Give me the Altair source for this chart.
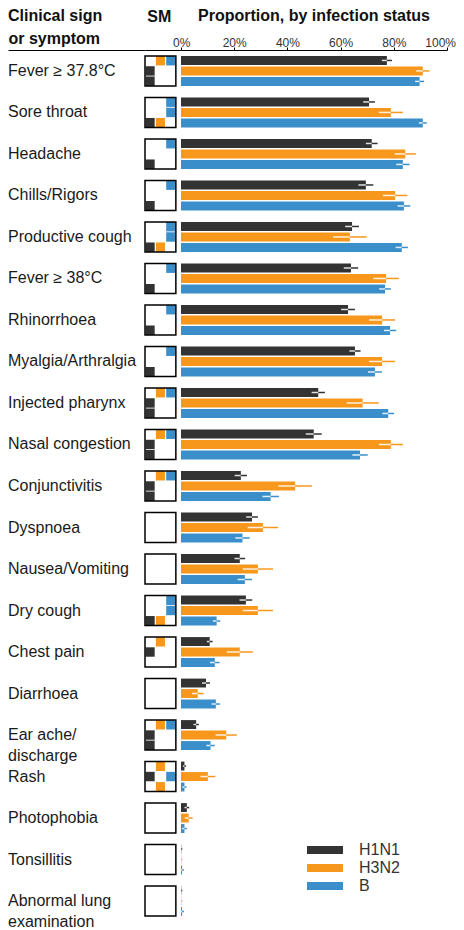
import altair as alt
import pandas as pd

FONT = "Liberation Sans"

symptoms = ["Fever ≥ 37.8°C", "Sore throat", "Headache", "Chills/Rigors", "Productive cough",
            "Fever ≥ 38°C", "Rhinorrhoea", "Myalgia/Arthralgia", "Injected pharynx",
            "Nasal congestion", "Conjunctivitis", "Dyspnoea", "Nausea/Vomiting", "Dry cough",
            "Chest pain", "Diarrhoea", "Ear ache/discharge", "Rash", "Photophobia",
            "Tonsillitis", "Abnormal lung examination"]
labels = ["Fever ≥ 37.8°C", "Sore throat", "Headache", "Chills/Rigors", "Productive cough",
          "Fever ≥ 38°C", "Rhinorrhoea", "Myalgia/Arthralgia", "Injected pharynx",
          "Nasal congestion", "Conjunctivitis", "Dyspnoea", "Nausea/Vomiting", "Dry cough",
          "Chest pain", "Diarrhoea", "Ear ache/\ndischarge", "Rash", "Photophobia",
          "Tonsillitis", "Abnormal lung\nexamination"]
strains = ["H1N1", "H3N2", "B"]
colors = ["#333333", "#F7981D", "#3A8FCA"]

h1n1 = [77.4, 70.7, 71.7, 69.5, 64.3, 63.9, 62.8, 65.4, 51.6, 49.9, 22.5, 26.7, 22.1, 24.4,
        10.8, 9.4, 5.7, 1.3, 2.2, 0.1, 0.1]
h1n1_err = [1.9, 2.2, 2.2, 2.8, 2.6, 2.7, 2.6, 2.1, 2.5, 3.0, 2.3, 2.2, 2.0, 2.4,
            1.1, 1.5, 1.0, 0.6, 0.9, 0.4, 0.4]
h3n2 = [90.9, 78.9, 84.3, 80.5, 63.5, 77.1, 75.6, 75.6, 68.3, 78.9, 42.9, 30.8, 28.9, 28.9,
        22.1, 6.3, 17.0, 10.1, 2.9, 0.1, 0.1]
h3n2_err = [2.5, 4.5, 4.0, 4.6, 6.3, 4.8, 4.9, 4.9, 6.0, 4.5, 6.3, 5.7, 5.7, 5.7,
            4.9, 2.2, 4.0, 2.8, 1.5, 0.4, 0.4]
b = [89.7, 90.9, 83.4, 83.8, 83.0, 76.7, 78.6, 72.9, 77.9, 67.3, 33.7, 23.1, 24.0, 13.4,
     12.7, 13.1, 11.1, 1.3, 1.3, 0.4, 0.4]
b_err = [1.7, 1.5, 2.5, 2.4, 2.3, 2.2, 2.3, 2.6, 2.2, 2.9, 3.1, 2.7, 2.7, 1.4,
         1.8, 1.6, 1.6, 0.8, 0.9, 0.7, 0.7]

# significance matrix: "rc" = row r, column c (0 = H1N1, 1 = H3N2, 2 = B)
sm_cells = [["01", "02", "10", "20"], ["02", "12", "20", "21"], ["02", "20"], ["02", "20"],
            ["02", "12", "20", "21"], ["02", "20"], ["02", "20"], ["02", "20"],
            ["01", "02", "10", "20"], ["01", "02", "10", "20"], ["01", "02", "10", "20"],
            [], [], ["02", "12", "20", "21"], ["01", "10"], [],
            ["01", "02", "10", "20"], ["01", "10", "12", "21"], [], [], []]

rows = []
for i, s in enumerate(symptoms):
    for strain, vals, errs in zip(strains, [h1n1, h3n2, b], [h1n1_err, h3n2_err, b_err]):
        v, e = vals[i], errs[i]
        rows.append(dict(symptom=s, strain=strain, value=v, lo=max(0.0, v - e), hi=v + e))
bars_df = pd.DataFrame(rows)

lab_df = pd.DataFrame(dict(symptom=symptoms, label=labels, lx=[0] * len(symptoms)))

cells = []
for s, codes in zip(symptoms, sm_cells):
    for code in codes:
        r, c = int(code[0]), int(code[1])
        cells.append(dict(symptom=s, row=strains[r], strain=strains[c], c0=c + 0.06, c1=c + 0.94))
cells_df = pd.DataFrame(cells)
box_df = pd.DataFrame(dict(symptom=symptoms))

H = 866
yscale = alt.Scale(type="band", domain=symptoms, paddingInner=0.28, paddingOuter=0.0722, align=1)
cscale = alt.Scale(domain=strains, range=colors)
blank_top = alt.Axis(orient="top", labels=False, ticks=False, grid=False, title=None,
                     domain=True, domainColor="black", domainWidth=1)
lab_axis = alt.Axis(orient="top", labels=False, ticks=False, grid=False, title="or symptom",
                    titleAnchor="start", titleAlign="left", titleFont=FONT, titleFontSize=16,
                    titleFontWeight="bold", titleColor="#111", titleBaseline="alphabetic",
                    titlePadding=6.5, domain=True, domainColor="black", domainWidth=1)

# ---- label panel
lab = alt.Chart(lab_df).mark_text(
    align="left", baseline="middle", fontSize=16, font=FONT, lineBreak="\n",
    lineHeight=21, color="#1a1a1a"
).encode(
    x=alt.X("lx:Q", scale=alt.Scale(domain=[0, 1]), axis=lab_axis),
    y=alt.Y("symptom:N", scale=yscale, axis=None),
    text="label:N",
).properties(
    width=137, height=H,
    title=alt.Title("Clinical sign", anchor="start", fontSize=16,
                    fontWeight="bold", font=FONT, offset=6.3, color="#111"),
)

# ---- significance matrix panel
smx = alt.Scale(domain=[0, 3.5])
cell_l = alt.Chart(cells_df).mark_rect().encode(
    x=alt.X("c0:Q", scale=smx, axis=blank_top),
    x2="c1:Q",
    y=alt.Y("symptom:N", scale=yscale, axis=None),
    yOffset=alt.YOffset("row:N", scale=alt.Scale(domain=strains, paddingInner=0.08)),
    color=alt.Color("strain:N", scale=cscale, legend=None),
)
box_l = alt.Chart(box_df).mark_rect(filled=False, stroke="black", strokeWidth=1.5).encode(
    x=alt.X(datum=0, scale=smx, axis=blank_top),
    x2=alt.X2(datum=3),
    y=alt.Y("symptom:N", scale=yscale, axis=None),
)
sm = alt.layer(cell_l, box_l).properties(
    width=36, height=H,
    title=alt.Title("SM", anchor="start", fontSize=16, fontWeight="bold", font=FONT,
                    offset=25.5, dx=3, color="#111"),
)

# ---- bars panel
xs = alt.Scale(domain=[0, 100], nice=False)
xaxis = alt.Axis(orient="top", values=[0, 20, 40, 60, 80, 100], labelExpr="datum.value + '%'",
                 grid=False, title=None, tickSize=3, tickColor="black", domainColor="black",
                 labelFontSize=12, labelFont=FONT, labelColor="#333", labelPadding=1,
                 labelBaseline="alphabetic", labelFlush=True, labelFlushOffset=8.5)
yoff = alt.YOffset("strain:N", scale=alt.Scale(domain=strains, paddingInner=0.15))
legend = alt.Legend(title=None, orient="none", legendX=136, legendY=792,
                    symbolType="M-3.6,-0.8H3.6V0.8H-3.6Z", symbolSize=100, symbolStrokeWidth=0,
                    labelOffset=26, labelFontSize=16, labelFont=FONT, labelColor="#333",
                    rowPadding=2, padding=0, direction="vertical", symbolOpacity=1)
base = alt.Chart(bars_df)
bar = base.mark_bar().encode(
    x=alt.X("value:Q", scale=xs, axis=xaxis),
    y=alt.Y("symptom:N", scale=yscale, axis=None),
    yOffset=yoff,
    color=alt.Color("strain:N", scale=cscale, legend=legend),
)
inner = base.mark_rule(color="white", strokeWidth=1.5, opacity=0.85).encode(
    x=alt.X("lo:Q", scale=xs, axis=xaxis), x2="value:Q",
    y=alt.Y("symptom:N", scale=yscale, axis=None), yOffset=yoff,
)
outer = base.mark_rule(strokeWidth=1.5).encode(
    x=alt.X("value:Q", scale=xs, axis=xaxis), x2="hi:Q",
    y=alt.Y("symptom:N", scale=yscale, axis=None), yOffset=yoff,
    color=alt.Color("strain:N", scale=cscale, legend=None),
)
barsp = alt.layer(bar, inner, outer).properties(
    width=266, height=H,
    title=alt.Title("Proportion, by infection status", anchor="middle", fontSize=16,
                    fontWeight="bold", font=FONT, offset=12, color="#111"),
)

chart = alt.hconcat(lab, sm, barsp, spacing=0, bounds="flush").resolve_scale(
    x="independent", yOffset="independent", color="independent"
).resolve_legend(color="independent").properties(padding=0).configure_view(stroke=None)

chart.save("out.html", embed_options={"renderer": "svg", "actions": False})
